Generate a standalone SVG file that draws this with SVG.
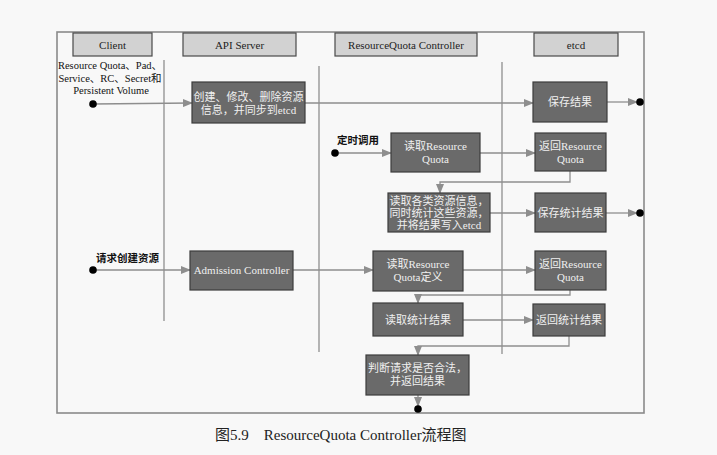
<svg xmlns="http://www.w3.org/2000/svg" width="717" height="455" viewBox="0 0 717 455">
<style>
.hdr{fill:#d2d2d2;stroke:#4a4a4a;stroke-width:1.2}
.box{fill:#6a6a6a;stroke:#3c3c3c;stroke-width:1.2}
.bt{font-family:"Liberation Serif","Noto Sans CJK SC",serif;font-size:11px;fill:#f0f0f0;text-anchor:middle}
.ht{font-family:"Liberation Serif","Noto Sans CJK SC",serif;font-size:11px;fill:#222;text-anchor:middle}
.lbl{font-family:"Liberation Serif","Noto Sans CJK SC",serif;font-size:10.5px;fill:#111}
.blbl{font-family:"Noto Sans CJK SC",sans-serif;font-size:10.5px;font-weight:bold;fill:#111}
.life{stroke:#8e8e8e;stroke-width:1.3;fill:none}
.con{stroke:#8e8e8e;stroke-width:1.3;fill:none}
.dot{fill:#000}
</style>
<defs>
<marker id="arr" markerWidth="10" markerHeight="8" refX="9" refY="4" orient="auto" markerUnits="userSpaceOnUse">
<path d="M0,0 L10,4 L0,8 Z" fill="#8e8e8e"/>
</marker>
</defs>
<rect x="0" y="0" width="717" height="455" fill="#f8f8f8"/>
<rect x="57" y="32" width="587" height="381" fill="#f8f8f8" stroke="#8a8a8a" stroke-width="1.6"/>

<g id="lifelines">
<line class="life" x1="164" y1="60" x2="164" y2="321"/>
<line class="life" x1="319" y1="66" x2="319" y2="352"/>
<line class="life" x1="502" y1="62" x2="502" y2="354"/>
</g>

<g id="hdr-client"><rect class="hdr" x="73" y="33" width="79" height="23"/><text class="ht" x="112.5" y="48.5">Client</text></g>
<g id="hdr-api"><rect class="hdr" x="183" y="33" width="113" height="23"/><text class="ht" x="239.5" y="48.5">API Server</text></g>
<g id="hdr-rqc"><rect class="hdr" x="335" y="33" width="142" height="23"/><text class="ht" x="406" y="48.5">ResourceQuota Controller</text></g>
<g id="hdr-etcd"><rect class="hdr" x="534" y="33" width="84" height="23"/><text class="ht" x="576" y="48.5">etcd</text></g>

<g id="connectors">
<line class="con" x1="93" y1="104" x2="192" y2="103" marker-end="url(#arr)"/>
<line class="con" x1="305" y1="103" x2="533" y2="103" marker-end="url(#arr)"/>
<line class="con" x1="607" y1="102" x2="637" y2="102" marker-end="url(#arr)"/>
<line class="con" x1="335" y1="153" x2="391" y2="153" marker-end="url(#arr)"/>
<line class="con" x1="480" y1="153" x2="535" y2="153" marker-end="url(#arr)"/>
<polyline class="con" points="570,171 570,182 440,182 440,193" marker-end="url(#arr)"/>
<line class="con" x1="490" y1="213" x2="535" y2="213" marker-end="url(#arr)"/>
<line class="con" x1="606" y1="213" x2="637" y2="213" marker-end="url(#arr)"/>
<line class="con" x1="93" y1="270" x2="190" y2="270" marker-end="url(#arr)"/>
<line class="con" x1="293" y1="270" x2="373" y2="270" marker-end="url(#arr)"/>
<line class="con" x1="463" y1="270" x2="535" y2="270" marker-end="url(#arr)"/>
<polyline class="con" points="570,290 570,295 418,295 418,303" marker-end="url(#arr)"/>
<line class="con" x1="463" y1="320" x2="533" y2="320" marker-end="url(#arr)"/>
<polyline class="con" points="569,336 569,346 418,346 418,355" marker-end="url(#arr)"/>
<line class="con" x1="418" y1="395" x2="418" y2="406" marker-end="url(#arr)"/>
<circle class="dot" cx="93" cy="104" r="3.8"/>
<circle class="dot" cx="640" cy="102" r="3.8"/>
<circle class="dot" cx="335" cy="153" r="3.8"/>
<circle class="dot" cx="640" cy="213" r="3.8"/>
<circle class="dot" cx="93" cy="270" r="3.8"/>
<circle class="dot" cx="418" cy="409" r="3.8"/>
</g>

<g id="label-resources">
<text class="lbl" text-anchor="middle" x="110" y="69">Resource Quota、Pad、</text>
<text class="lbl" text-anchor="middle" x="110" y="81.5">Service、RC、Secret和</text>
<text class="lbl" text-anchor="middle" x="111" y="94">Persistent Volume</text>
</g>
<g id="label-timer"><text class="blbl" x="337" y="144">定时调用</text></g>
<g id="label-request"><text class="blbl" x="96" y="262">请求创建资源</text></g>

<g id="n-create"><rect class="box" x="192" y="82" width="113" height="41"/>
<text class="bt" x="248.5" y="100.5">创建、修改、删除资源</text><text class="bt" x="248.5" y="114">信息，并同步到etcd</text></g>
<g id="n-save"><rect class="box" x="533" y="82" width="74" height="40"/><text class="bt" x="570" y="106">保存结果</text></g>
<g id="n-read-rq"><rect class="box" x="391" y="133" width="89" height="39"/>
<text class="bt" x="435.5" y="150">读取Resource</text><text class="bt" x="435.5" y="163">Quota</text></g>
<g id="n-ret-rq1"><rect class="box" x="535" y="133" width="71" height="38"/>
<text class="bt" x="570.5" y="150">返回Resource</text><text class="bt" x="570.5" y="163">Quota</text></g>
<g id="n-read-all"><rect class="box" x="388" y="193" width="102" height="39"/>
<text class="bt" x="439" y="204.5">读取各类资源信息，</text><text class="bt" x="439" y="216.5">同时统计这些资源，</text><text class="bt" x="439" y="228.5">并将结果写入etcd</text></g>
<g id="n-save-stat"><rect class="box" x="535" y="193" width="71" height="39"/><text class="bt" x="570.5" y="217">保存统计结果</text></g>
<g id="n-admission"><rect class="box" x="190" y="251" width="103" height="39"/><text class="bt" x="241.5" y="274">Admission Controller</text></g>
<g id="n-read-def"><rect class="box" x="373" y="251" width="90" height="40"/>
<text class="bt" x="418" y="268">读取Resource</text><text class="bt" x="418" y="281">Quota定义</text></g>
<g id="n-ret-rq2"><rect class="box" x="535" y="251" width="71" height="39"/>
<text class="bt" x="570.5" y="268">返回Resource</text><text class="bt" x="570.5" y="281">Quota</text></g>
<g id="n-read-stat"><rect class="box" x="373" y="303" width="90" height="33"/><text class="bt" x="418" y="324">读取统计结果</text></g>
<g id="n-ret-stat"><rect class="box" x="533" y="304" width="72" height="32"/><text class="bt" x="569" y="324">返回统计结果</text></g>
<g id="n-judge"><rect class="box" x="366" y="355" width="103" height="40"/>
<text class="bt" x="417.5" y="372">判断请求是否合法，</text><text class="bt" x="417.5" y="385">并返回结果</text></g>

<g id="caption"><text x="215" y="440" font-family="Liberation Serif,Noto Sans CJK SC,serif" font-size="15" fill="#222" xml:space="preserve">图5.9    ResourceQuota Controller流程图</text></g>
</svg>
